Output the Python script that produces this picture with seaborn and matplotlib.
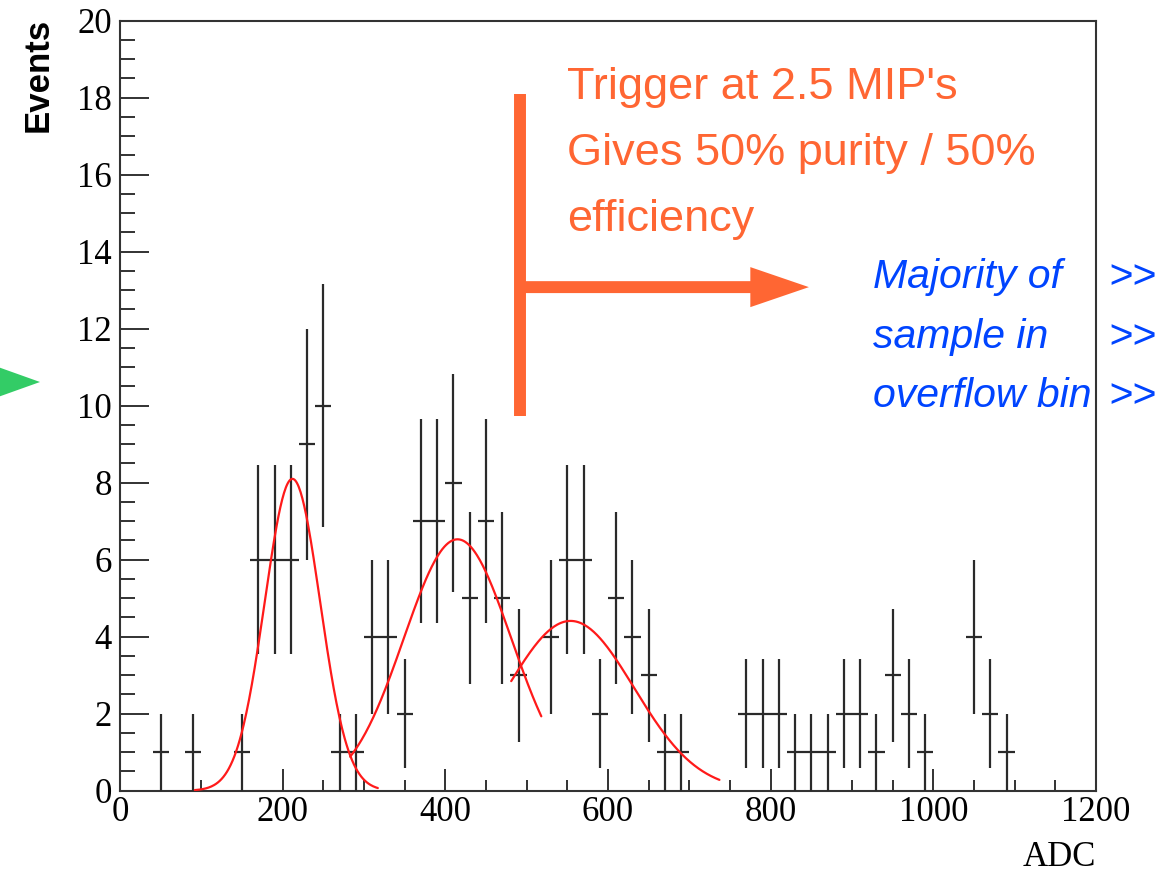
import numpy as np
import pandas as pd
import matplotlib
matplotlib.use("Agg")
import matplotlib.pyplot as plt
from matplotlib import font_manager
from matplotlib.patches import FancyArrow, Polygon
import seaborn as sns

# ---------------- data ----------------
bin_centers = [50, 90, 150, 170, 190, 210, 230, 250, 270, 290, 310, 330, 350,
               370, 390, 410, 430, 450, 470, 490, 530, 550, 570, 590, 610, 630,
               650, 670, 690, 770, 790, 810, 830, 850, 870, 890, 910, 930, 950,
               970, 990, 1050, 1070, 1090]
counts = [1, 1, 1, 6, 6, 6, 9, 10, 1, 1, 4, 4, 2,
          7, 7, 8, 5, 7, 5, 3, 4, 6, 6, 2, 5, 4,
          3, 1, 1, 2, 2, 2, 1, 1, 1, 2, 2, 1, 3,
          2, 1, 4, 2, 1]
bin_width = 20

# Gaussian fit parameters (amplitude, mean, sigma, drawn range)
fit_amp = [8.1, 6.53, 4.41]
fit_mean = [212, 415, 554]
fit_sigma = [34, 66, 78]
fit_lo = [92, 283, 481]
fit_hi = [317, 518, 737]

x_ticks = [0, 200, 400, 600, 800, 1000, 1200]
y_ticks = [0, 2, 4, 6, 8, 10, 12, 14, 16, 18, 20]

# ---------------- style ----------------
sns.set_theme(style="white")
names = {f.name for f in font_manager.fontManager.ttflist}
narrow = "Liberation Sans Narrow" in names
sans_narrow = "Liberation Sans Narrow" if narrow else "Liberation Sans"
plt.rcParams["font.family"] = ["Liberation Serif", "DejaVu Serif"]
plt.rcParams["text.color"] = "black"

W, H = 1167, 874
fig = plt.figure(figsize=(W / 100, H / 100), dpi=100)
fig.patch.set_facecolor("white")
L, R, T, B = 120, 1096, 20.7, 790.7
ax = fig.add_axes([L / W, 1 - B / H, (R - L) / W, (B - T) / H])
ax.set_facecolor("white")


def fx(px):
    return px / W


def fy(py):
    return 1 - py / H


df = pd.DataFrame({"adc": bin_centers, "events": counts})
df["err"] = np.sqrt(df["events"])

ax.errorbar(df["adc"], df["events"], xerr=bin_width / 2, yerr=df["err"],
            fmt="none", ecolor="#2a2a2a", elinewidth=1.6, capsize=0, zorder=3)

for a, m, s, lo, hi in zip(fit_amp, fit_mean, fit_sigma, fit_lo, fit_hi):
    xs = np.linspace(lo, hi, 200)
    fd = pd.DataFrame({"x": xs, "y": a * np.exp(-0.5 * ((xs - m) / s) ** 2)})
    sns.lineplot(data=fd, x="x", y="y", ax=ax, color="#ff1a1a", lw=1.6,
                 sort=False, estimator=None, zorder=4)

ax.set_xlim(0, 1200)
ax.set_ylim(0, 20)
ax.set_xticks(x_ticks)
ax.set_yticks(y_ticks)
ax.set_xticks(np.arange(0, 1201, 50), minor=True)
ax.set_yticks(np.arange(0, 20.01, 0.5), minor=True)
ax.set_xticklabels([str(v) for v in x_ticks])
ax.set_yticklabels([str(v) for v in y_ticks])
ax.tick_params(axis="both", which="both", direction="in", colors="#222222",
               width=1.3, labelcolor="black", labelsize=25,
               top=False, right=False, bottom=True, left=True)
ax.tick_params(axis="x", which="major", length=16, pad=4)
ax.tick_params(axis="x", which="minor", length=8)
ax.tick_params(axis="y", which="major", length=21, pad=6)
ax.tick_params(axis="y", which="minor", length=11)
ax.set_xlabel("")
ax.set_ylabel("")
for sp in ax.spines.values():
    sp.set_color("#333333")
    sp.set_linewidth(1.5)

# axis titles
fig.text(fx(1096), fy(866), "ADC", ha="right", va="baseline", fontsize=25,
         color="black", family=["Liberation Serif", "DejaVu Serif"])
fig.text(fx(38.5), fy(18), "Events", rotation=90, ha="center", va="top",
         fontsize=25, fontweight="bold", color="black",
         family=["Liberation Sans", "DejaVu Sans"])

# orange trigger annotation
orange = "#ff6633"
ax.plot([492, 492], [9.74, 18.09], color=orange, lw=8.6,
        solid_capstyle="butt", zorder=5)
ax.add_patch(FancyArrow(492, 13.08, 847 - 492, 0, width=0.31,
                        head_width=1.04, head_length=72, length_includes_head=True,
                        color=orange, lw=0, zorder=5))
osize = 37 if narrow else 32.5
for txt, base in zip(["Trigger at 2.5 MIP's", "Gives 50% purity / 50%", "efficiency"],
                     [99, 165, 231.5]):
    fig.text(fx(567), fy(base), txt, color=orange, fontsize=osize,
             ha="left", va="baseline", family=[sans_narrow, "DejaVu Sans"])

# blue overflow annotation
blue = "#0044ff"
bsize = 34.5 if narrow else 29.5
for txt, base in zip(["Majority of", "sample in", "overflow bin"], [288, 348, 407]):
    fig.text(fx(873), fy(base), txt, color=blue, fontsize=bsize, style="italic",
             ha="left", va="baseline", family=[sans_narrow, "DejaVu Sans"])
    fig.text(fx(1108), fy(base), ">>", color=blue, fontsize=bsize, style="italic",
             ha="left", va="baseline", family=[sans_narrow, "DejaVu Sans"])

# green pointer triangle at the left edge
tri = Polygon([[fx(-30), fy(357)], [fx(40), fy(382)], [fx(-30), fy(407)]],
              closed=True, transform=fig.transFigure, facecolor="#33cc66",
              edgecolor="none", clip_on=False)
fig.patches.append(tri)

fig.savefig("out.png", dpi=100, facecolor="white")
